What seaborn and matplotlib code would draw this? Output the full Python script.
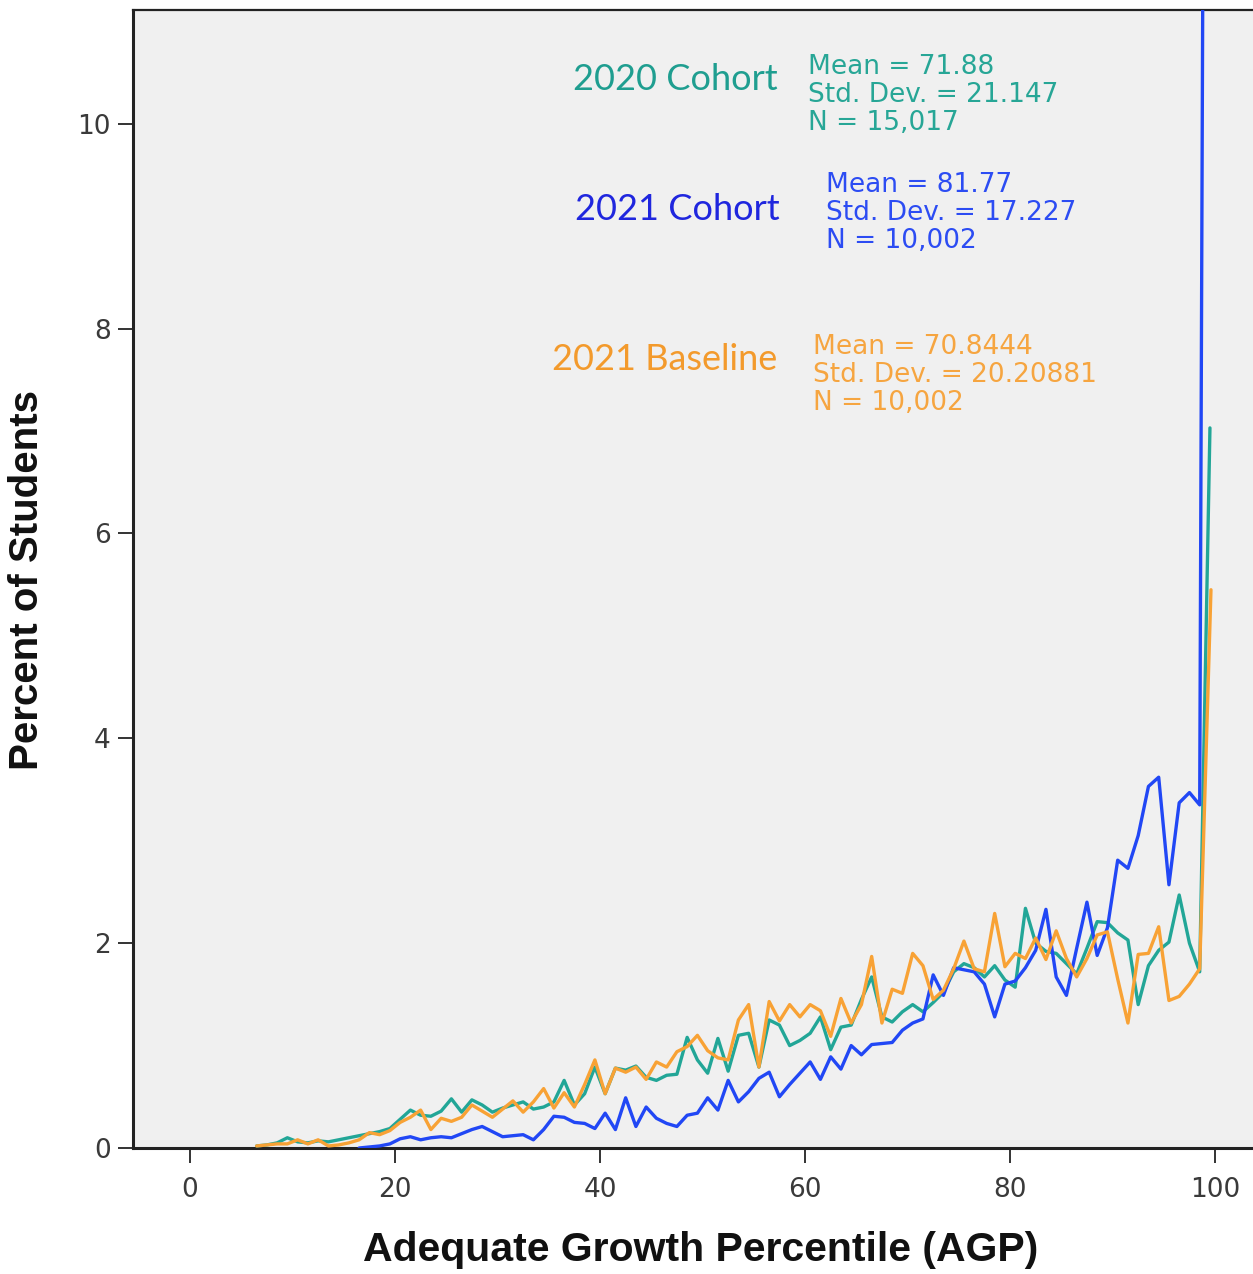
import numpy as np
import pandas as pd
import matplotlib
matplotlib.use("Agg")
import matplotlib.pyplot as plt
import seaborn as sns

# ---------------- data ----------------
# AGP bin midpoints 6.5 ... 98.5
agp_grid = [k + 0.5 for k in range(6, 99)]

cohort2020 = [0.02, 0.03, 0.05, 0.10, 0.06, 0.05, 0.07, 0.06, 0.08, 0.10,   # 6-15
              0.12, 0.14, 0.16, 0.19, 0.28, 0.37, 0.32, 0.31, 0.36, 0.48,   # 16-25
              0.35, 0.47, 0.42, 0.35, 0.39, 0.42, 0.45, 0.38, 0.40, 0.45,   # 26-35
              0.66, 0.42, 0.53, 0.79, 0.53, 0.78, 0.76, 0.80, 0.69, 0.66,   # 36-45
              0.71, 0.72, 1.08, 0.86, 0.73, 1.07, 0.75, 1.10, 1.12, 0.79,   # 46-55
              1.25, 1.20, 1.00, 1.05, 1.12, 1.28, 0.96, 1.18, 1.20, 1.45,   # 56-65
              1.67, 1.28, 1.23, 1.33, 1.40, 1.33, 1.42, 1.52, 1.72, 1.80,   # 66-75
              1.76, 1.67, 1.78, 1.64, 1.57, 2.34, 2.00, 1.92, 1.90, 1.80,   # 76-85
              1.70, 1.95, 2.21, 2.20, 2.10, 2.03, 1.40, 1.78, 1.93, 2.01,   # 86-95
              2.47, 2.00, 1.72]                                             # 96-98
cohort2020_last = (99.5, 7.03)

baseline2021 = [0.02, 0.03, 0.04, 0.04, 0.08, 0.04, 0.08, 0.02, 0.03, 0.05,  # 6-15
                0.08, 0.15, 0.13, 0.17, 0.25, 0.30, 0.37, 0.18, 0.29, 0.26,  # 16-25
                0.30, 0.42, 0.36, 0.30, 0.38, 0.46, 0.35, 0.45, 0.58, 0.39,  # 26-35
                0.54, 0.40, 0.62, 0.86, 0.53, 0.78, 0.74, 0.79, 0.67, 0.84,  # 36-45
                0.79, 0.94, 0.99, 1.10, 0.95, 0.88, 0.86, 1.25, 1.40, 0.79,  # 46-55
                1.43, 1.24, 1.40, 1.28, 1.40, 1.34, 1.09, 1.46, 1.22, 1.40,  # 56-65
                1.87, 1.22, 1.55, 1.51, 1.90, 1.78, 1.45, 1.54, 1.75, 2.02,  # 66-75
                1.75, 1.72, 2.29, 1.77, 1.90, 1.85, 2.05, 1.84, 2.12, 1.85,  # 76-85
                1.67, 1.85, 2.08, 2.11, 1.65, 1.22, 1.89, 1.90, 2.16, 1.44,  # 86-95
                1.48, 1.60, 1.75]                                            # 96-98
baseline2021_last = (99.6, 5.45)

cohort2021_start = 16
cohort2021 = [0.00, 0.01, 0.02, 0.04, 0.09, 0.11, 0.08, 0.10, 0.11, 0.10,   # 16-25
              0.14, 0.18, 0.21, 0.16, 0.11, 0.12, 0.13, 0.08, 0.18, 0.31,   # 26-35
              0.30, 0.25, 0.24, 0.19, 0.34, 0.18, 0.49, 0.21, 0.40, 0.29,   # 36-45
              0.24, 0.21, 0.32, 0.34, 0.49, 0.37, 0.66, 0.45, 0.55, 0.68,   # 46-55
              0.74, 0.50, 0.62, 0.73, 0.84, 0.67, 0.89, 0.77, 1.00, 0.91,   # 56-65
              1.01, 1.02, 1.03, 1.15, 1.22, 1.26, 1.69, 1.49, 1.76, 1.74,   # 66-75
              1.72, 1.60, 1.28, 1.60, 1.63, 1.76, 1.93, 2.33, 1.67, 1.49,   # 76-85
              1.95, 2.40, 1.88, 2.15, 2.81, 2.73, 3.05, 3.53, 3.62, 2.57,   # 86-95
              3.37, 3.47, 3.35]                                             # 96-98
cohort2021_last = (98.9, 14.0)

series_names = ["2020 Cohort", "2021 Cohort", "2021 Baseline"]
stats_text = ["Mean = 71.88\nStd. Dev. = 21.147\nN = 15,017",
              "Mean = 81.77\nStd. Dev. = 17.227\nN = 10,002",
              "Mean = 70.8444\nStd. Dev. = 20.20881\nN = 10,002"]

x_ticks = [0, 20, 40, 60, 80, 100]
y_ticks = [0, 2, 4, 6, 8, 10]

# ---------------- build long-form table ----------------
rows = []
for x, y in zip(agp_grid, cohort2020):
    rows.append((series_names[0], x, y))
rows.append((series_names[0],) + cohort2020_last)
for i, y in enumerate(cohort2021):
    rows.append((series_names[1], cohort2021_start + i + 0.5, y))
rows.append((series_names[1],) + cohort2021_last)
for x, y in zip(agp_grid, baseline2021):
    rows.append((series_names[2], x, y))
rows.append((series_names[2],) + baseline2021_last)
df = pd.DataFrame(rows, columns=["series", "agp", "pct"])

line_colors = {"2020 Cohort": "#22a697", "2021 Cohort": "#2147f5", "2021 Baseline": "#f8a235"}
title_colors = {"2020 Cohort": "#1f9e90", "2021 Cohort": "#1f26de", "2021 Baseline": "#f39a2c"}
stat_colors = {"2020 Cohort": "#27a696", "2021 Cohort": "#2c4cf3", "2021 Baseline": "#f6a540"}

# ---------------- figure ----------------
sns.set_style("ticks", {"axes.facecolor": "#f0f0f0"})
W, H = 1253, 1274
fig = plt.figure(figsize=(W / 100, H / 100), dpi=100)
ax = fig.add_axes([133 / W, 1 - 1148 / H, (W - 133) / W, (1148 - 10) / H])
ax.set_facecolor("#f0f0f0")

for name in ["2020 Cohort", "2021 Cohort", "2021 Baseline"]:
    sub = df[df["series"] == name]
    sns.lineplot(data=sub, x="agp", y="pct", ax=ax, color=line_colors[name],
                 linewidth=2.4, estimator=None, sort=True, legend=False, zorder=3)

ax.set_xlim(-5.56, 103.7)
ax.set_ylim(0, 11.11)
ax.set_xticks(x_ticks)
ax.set_yticks(y_ticks)
ax.set_xticklabels([str(t) for t in x_ticks])
ax.set_yticklabels([str(t) for t in y_ticks])

for side in ["left", "bottom", "top"]:
    ax.spines[side].set_visible(True)
    ax.spines[side].set_color("#222222")
ax.spines["left"].set_linewidth(2.2)
ax.spines["bottom"].set_linewidth(2.2)
ax.spines["top"].set_linewidth(1.6)
ax.spines["right"].set_visible(False)

ax.tick_params(axis="both", direction="out", length=11, width=1.4, color="#333333",
               labelsize=19, labelcolor="#3a3a3a")
ax.tick_params(axis="y", pad=5)
ax.tick_params(axis="x", pad=10)
for lab in ax.get_xticklabels() + ax.get_yticklabels():
    lab.set_family("DejaVu Sans")

ax.set_xlabel("Adequate Growth Percentile (AGP)", fontsize=29.5, fontweight="bold",
              family="Liberation Sans", color="#111111")
ax.set_ylabel("Percent of Students", fontsize=29, fontweight="bold",
              family="Liberation Sans", color="#111111")
ax.xaxis.set_label_coords(0.507, -0.0725)
ax.yaxis.set_label_coords(-0.0775, 0.499)

# annotations
title_pos = {"2020 Cohort": (57.3, 10.43), "2021 Cohort": (57.5, 9.16), "2021 Baseline": (57.3, 7.70)}
stat_pos = {"2020 Cohort": (60.3, 10.28), "2021 Cohort": (62.05, 9.13), "2021 Baseline": (60.8, 7.55)}
for name, st in zip(series_names, stats_text):
    tx, ty = title_pos[name]
    ax.text(tx, ty, name, ha="right", va="center", fontsize=26, family="Lato",
            color=title_colors[name], zorder=5)
    sx, sy = stat_pos[name]
    ax.text(sx, sy, st, ha="left", va="center", fontsize=19, family="DejaVu Sans",
            color=stat_colors[name], linespacing=1.1, zorder=5)

fig.savefig("out.png", dpi=100, facecolor="white")
